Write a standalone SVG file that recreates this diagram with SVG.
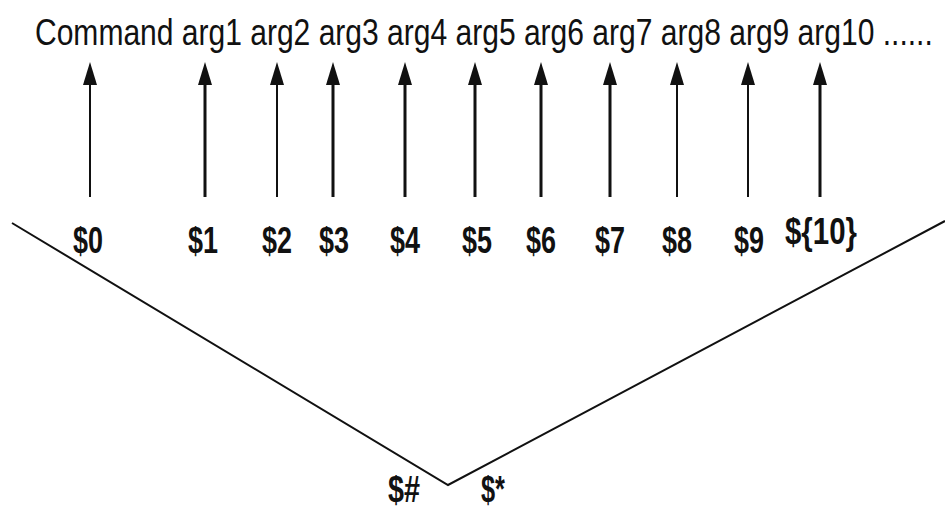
<svg xmlns="http://www.w3.org/2000/svg" width="945" height="512" viewBox="0 0 945 512">
<style>
.top{font-family:"Liberation Sans",Arial,sans-serif;font-size:37px;fill:#111}
.lbl{font-family:"Liberation Sans",Arial,sans-serif;font-size:37px;font-weight:bold;fill:#111;text-anchor:middle}
.ln{stroke:#111;stroke-width:2;fill:none}
.thick{stroke-width:3}
.head{fill:#111}
</style>
<rect width="945" height="512" fill="#fff"/>
<g id="command-line">
<text class="top" transform="translate(35,45) scale(0.78,1)" x="0" y="0" textLength="1151" lengthAdjust="spacingAndGlyphs">Command arg1 arg2 arg3 arg4 arg5 arg6 arg7 arg8 arg9 arg10 ......</text>
</g>
<g id="connectors">
<g id="arrows">
<path class="ln" d="M90 197V80M277 197V80M677 197V80M748 197V80"/>
<path class="ln thick" d="M205 197V80M333 197V80M405 197V80M475 197V80M541 197V80M610 197V80M820 197V80"/>
<g class="head">
<polygon points="90,62 83,85 97,85"/>
<polygon points="205,62 198,85 212,85"/>
<polygon points="277,62 270,85 284,85"/>
<polygon points="333,62 326,85 340,85"/>
<polygon points="405,62 398,85 412,85"/>
<polygon points="475,62 468,85 482,85"/>
<polygon points="541,62 534,85 548,85"/>
<polygon points="610,62 603,85 617,85"/>
<polygon points="677,62 670,85 684,85"/>
<polygon points="748,62 741,85 755,85"/>
<polygon points="820,62 813,85 827,85"/>
</g>
</g>
<polyline id="vee" class="ln" points="12,223 448,485 945,221"/>
</g>
<g id="labels">
<text class="lbl" x="88" y="253" textLength="30" lengthAdjust="spacingAndGlyphs">$0</text>
<text class="lbl" x="203" y="253" textLength="30" lengthAdjust="spacingAndGlyphs">$1</text>
<text class="lbl" x="277" y="253" textLength="30" lengthAdjust="spacingAndGlyphs">$2</text>
<text class="lbl" x="334" y="253" textLength="30" lengthAdjust="spacingAndGlyphs">$3</text>
<text class="lbl" x="405" y="253" textLength="30" lengthAdjust="spacingAndGlyphs">$4</text>
<text class="lbl" x="477" y="253" textLength="30" lengthAdjust="spacingAndGlyphs">$5</text>
<text class="lbl" x="541" y="253" textLength="30" lengthAdjust="spacingAndGlyphs">$6</text>
<text class="lbl" x="610" y="253" textLength="30" lengthAdjust="spacingAndGlyphs">$7</text>
<text class="lbl" x="677" y="253" textLength="30" lengthAdjust="spacingAndGlyphs">$8</text>
<text class="lbl" x="749" y="253" textLength="30" lengthAdjust="spacingAndGlyphs">$9</text>
<text class="lbl" x="821" y="244" textLength="72" lengthAdjust="spacingAndGlyphs">${10}</text>
<text class="lbl" x="404" y="502" textLength="32" lengthAdjust="spacingAndGlyphs">$#</text>
<text class="lbl" x="493" y="502" textLength="24" lengthAdjust="spacingAndGlyphs">$*</text>
</g>
</svg>
